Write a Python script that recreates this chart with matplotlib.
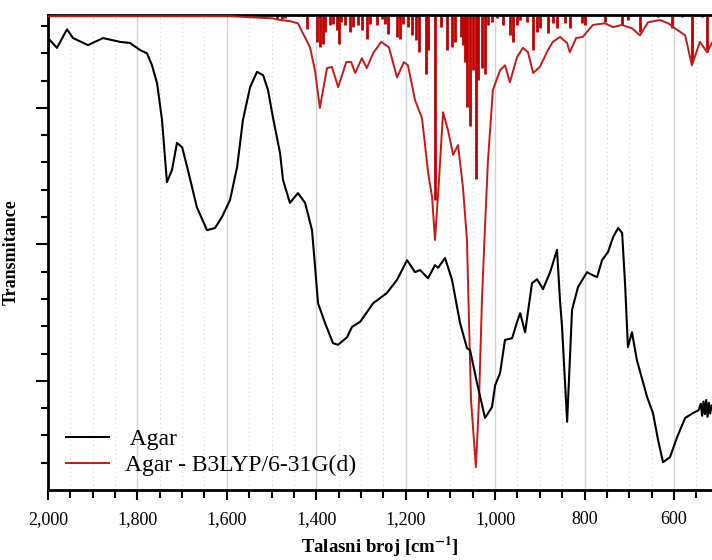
import matplotlib
matplotlib.use("Agg")
import matplotlib.pyplot as plt
from matplotlib.ticker import MultipleLocator, StrMethodFormatter, FixedLocator

plt.rcParams['font.family'] = ['Liberation Serif', 'DejaVu Serif']
plt.rcParams['mathtext.fontset'] = 'stix'

# experimental spectrum (Agar), wavenumber [cm-1] / transmittance (arb.)
agar_wn = [2000, 1980, 1957.5, 1944, 1910.5, 1877, 1839, 1816.6, 1794, 1778.6,
           1767.4, 1756, 1745, 1734, 1722.7, 1711.5, 1700, 1687, 1667, 1644.4,
           1626.5, 1611, 1593, 1577, 1564, 1548, 1532.6, 1519, 1508, 1497,
           1481, 1474.4, 1459, 1441, 1425, 1409.5, 1396, 1380.5, 1362.6, 1351.4,
           1331, 1320, 1302, 1273, 1242, 1219.4, 1197, 1179, 1168, 1150,
           1134.4, 1127.7, 1112, 1096.4, 1078.5, 1063, 1056, 1040.5, 1022.6, 1007,
           1000, 989, 978, 962, 951, 944, 933, 917.5, 906.3, 893,
           877, 861.6, 855, 850.4, 839, 828, 814.6, 794.5, 783, 772,
           761, 747.5, 736.3, 725, 716, 709.5, 703, 694, 683, 660,
           647, 635.7, 624.5, 609, 593, 575, 557.5, 545, 540, 537,
           534, 531, 528, 525, 522, 519, 516]
agar_t = [82.8, 81.0, 84.4, 82.8, 81.5, 82.8, 82.1, 81.9, 80.6, 80.0,
          77.8, 74.5, 67.8, 56.4, 58.6, 63.6, 62.8, 58.6, 51.8, 47.6,
          48.0, 50.0, 53.1, 59.2, 67.8, 73.8, 76.6, 76.0, 73.3, 68.3,
          61.7, 56.8, 52.6, 54.4, 52.6, 47.6, 34.2, 30.6, 26.9, 26.6,
          28.0, 29.9, 30.8, 34.2, 36.1, 38.5, 42.1, 39.9, 40.3, 38.8,
          41.2, 40.7, 42.5, 38.5, 30.6, 26.0, 25.6, 19.6, 13.2, 15.2,
          19.2, 21.4, 27.5, 27.8, 30.8, 32.4, 28.9, 37.9, 38.6, 36.8,
          39.9, 44.0, 34.8, 29.9, 12.5, 33.0, 37.2, 39.9, 39.4, 39.0,
          42.1, 43.6, 46.3, 48.0, 47.1, 37.9, 26.2, 28.9, 23.8, 17.0,
          14.1, 9.2, 5.1, 6.0, 9.7, 13.2, 14.1, 14.6, 15.8, 13.6,
          16.2, 13.9, 16.5, 13.4, 16.0, 14.0, 15.5]

# calculated spectrum (B3LYP/6-31G(d)), broadened curve
calc_wn = [2000, 1593, 1497, 1481, 1459, 1441, 1430, 1414, 1403, 1392,
           1376, 1365, 1351, 1333, 1322, 1313, 1298, 1287, 1273, 1255,
           1237.5, 1219.4, 1204, 1195, 1179, 1163.5, 1150, 1141, 1134.5, 1125.5,
           1116.5, 1105.4, 1094, 1083, 1072, 1063, 1054, 1043, 1036, 1029.5,
           1023, 1016, 1005, 989, 978, 967, 951, 938, 926.5, 915,
           900, 882, 871, 855, 839, 833, 819, 804, 781.4, 754.6,
           736.7, 716.6, 694, 676, 658, 631, 613, 598, 575, 560,
           542, 526, 515]
calc_t = [86.8, 86.8, 86.4, 86.1, 85.9, 85.5, 83.7, 81.1, 76.9, 70.0,
          77.3, 77.5, 73.8, 78.4, 78.4, 76.4, 79.1, 77.3, 80.0, 82.1,
          81.1, 75.6, 78.4, 77.8, 71.4, 68.1, 58.2, 53.7, 45.8, 56.8,
          69.2, 65.9, 61.4, 63.2, 55.5, 45.8, 16.5, 4.2, 16.5, 34.8,
          47.6, 60.4, 73.3, 76.9, 77.8, 74.7, 79.3, 81.0, 80.2, 76.4,
          77.5, 80.6, 82.1, 83.0, 81.9, 80.2, 82.8, 83.0, 85.2, 85.5,
          84.8, 85.2, 84.6, 83.3, 85.7, 86.1, 85.5, 84.6, 83.3, 77.8,
          82.1, 80.2, 81.9]

# calculated line positions and where each stick ends
stick_wn = [1487.8, 1476.6, 1470, 1420.7, 1398.4, 1391.6, 1385, 1380.5, 1369, 1362.6,
            1353.7, 1349, 1344.7, 1335.7, 1324.5, 1318, 1306.7, 1297.7, 1286.5, 1280,
            1264, 1253, 1246, 1239.6, 1219.4, 1212.7, 1206, 1194.8, 1186, 1177,
            1170, 1154.6, 1150, 1134.4, 1121, 1107.6, 1096.4, 1089.7, 1076.3, 1072,
            1067.3, 1062.9, 1056, 1049.4, 1042.7, 1038, 1029.3, 1022.6, 1016, 1007,
            995.8, 982.4, 966.7, 960, 951, 944.3, 928.7, 915.2, 906.3, 899.6,
            881.7, 870.5, 861.6, 843.7, 832.5, 805.6, 799, 754.4, 716.4, 703,
            676, 635.7, 604.4, 582, 559.6, 537, 526]
stick_t = [86.3, 86.3, 86.4, 84.4, 82.1, 81.1, 81.7, 83.9, 85.2, 85.3,
           84.2, 81.7, 85.7, 85.2, 83.9, 84.8, 85.2, 84.2, 82.6, 85.3,
           85.2, 86.3, 85.3, 83.5, 83.0, 82.6, 85.3, 84.8, 83.3, 82.4,
           80.2, 76.2, 80.6, 53.1, 84.8, 80.6, 81.1, 82.1, 83.0, 81.5,
           78.4, 70.1, 66.7, 76.9, 57.0, 75.1, 77.3, 76.2, 85.2, 85.7,
           86.4, 85.2, 83.3, 82.1, 85.2, 86.1, 85.7, 80.6, 83.9, 84.6,
           83.7, 85.5, 84.6, 85.5, 84.6, 85.5, 85.2, 85.7, 85.2, 86.1,
           83.9, 86.6, 84.6, 86.6, 78.4, 86.6, 80.2]

y_top = 87.0
red = '#c00000'

fig = plt.figure(figsize=(7.12, 5.6), dpi=100)
ax = fig.add_axes([0.0674, 0.125, 0.9326, 0.848])

ax.vlines(stick_wn, stick_t, y_top, color=red, lw=2.0, zorder=2)
ax.plot(calc_wn, calc_t, color='#c41a1a', lw=1.4, zorder=3, label='Agar - B3LYP/6-31G(d)')
ax.plot(agar_wn, agar_t, color='black', lw=1.5, zorder=4, label=' Agar')

ax.set_xlim(2000, 515)
ax.set_ylim(0, y_top)

ax.xaxis.set_major_locator(MultipleLocator(200))
ax.xaxis.set_minor_locator(MultipleLocator(50))
ax.xaxis.set_major_formatter(StrMethodFormatter('{x:,.0f}'))
ax.yaxis.set_major_locator(FixedLocator([20, 45, 70]))
ax.yaxis.set_minor_locator(FixedLocator([5, 10, 15, 25, 30, 35, 40, 50, 55, 60, 65, 75, 80, 85]))
ax.set_yticklabels([])

ax.grid(True, which='major', axis='x', color='#d4d4d4', lw=1.0, zorder=0)
ax.grid(True, which='minor', axis='x', color='#d4d4d4', lw=0.8, ls=(0, (1, 3)), zorder=0)
ax.set_axisbelow(True)

for s in ['left', 'bottom', 'top']:
    ax.spines[s].set_linewidth(2.0)
ax.spines['right'].set_visible(False)

ax.tick_params(axis='x', which='major', direction='out', length=7, width=1.5, labelsize=13, pad=8)
ax.tick_params(axis='x', which='minor', direction='out', length=6, width=1.5)
ax.tick_params(axis='y', which='major', direction='out', length=9, width=1.5)
ax.tick_params(axis='y', which='minor', direction='out', length=5, width=1.5)

ax.set_xlabel(r'Talasni broj [cm$^{\mathbf{-1}}$]', fontsize=13.5, fontweight='bold', labelpad=5)
ax.set_ylabel('Transmitance', fontsize=13, fontweight='bold')
ax.yaxis.set_label_coords(-0.043, 0.5)

handles, labels = ax.get_legend_handles_labels()
ax.legend(handles[::-1], labels[::-1], loc='lower left', bbox_to_anchor=(0.013, 0.01),
          frameon=False, fontsize=17, handlelength=1.8, handletextpad=0.7,
          labelspacing=0.18, borderaxespad=0.0)

fig.savefig('out.png', dpi=100)
